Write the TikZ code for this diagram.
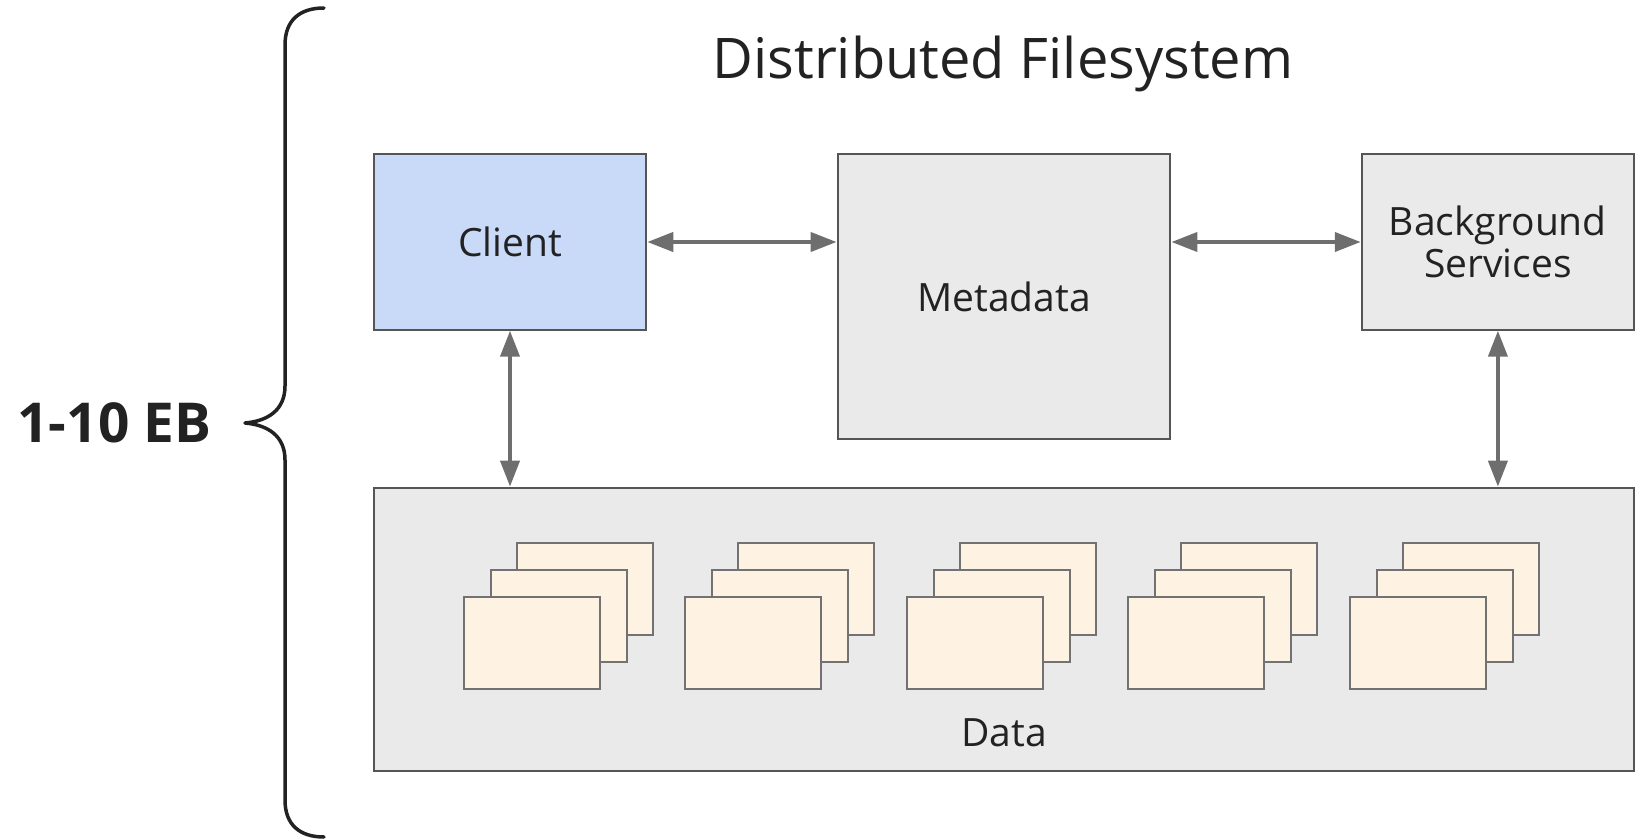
\documentclass[tikz,border=0pt]{standalone}
\usepackage{fontspec}
\setmainfont{Open Sans}
\usetikzlibrary{arrows.meta}

\definecolor{clientfill}{HTML}{C9DAF8}
\definecolor{boxfill}{HTML}{EAEAEA}
\definecolor{pagefill}{HTML}{FEF3E2}
\definecolor{boxline}{HTML}{555555}
\definecolor{pageline}{HTML}{727272}
\definecolor{arrowcol}{HTML}{6E6E6E}
\definecolor{inkcol}{HTML}{222222}

\begin{document}
\begin{tikzpicture}[x=1pt,y=-1pt,
  every node/.style={text=inkcol},
  box/.style={draw=boxline, line width=2pt, fill=boxfill, rectangle, inner sep=0pt,
    font=\fontsize{39}{43}\selectfont, align=center},
  clientbox/.style={box, fill=clientfill},
  page/.style={draw=pageline, line width=2pt, fill=pagefill, rectangle, inner sep=0pt,
    minimum width=136, minimum height=91.7},
  lbl/.style={font=\fontsize{39}{43}\selectfont, inner sep=0pt},
  conn/.style={draw=arrowcol, line width=4pt,
    {Triangle[length=26pt,width=19pt]}-{Triangle[length=26pt,width=19pt]}},
  brace/.style={draw=inkcol, line width=3.5pt, line cap=round, line join=round}
]
\useasboundingbox (0,0) rectangle (1650,840);

% title and size label
\node[anchor=base, inner sep=0pt, font=\fontsize{56}{60}\selectfont] (title) at (1003,79) {Distributed Filesystem};
\node[anchor=base, inner sep=0pt, font=\fontsize{55}{60}\selectfont\bfseries] (size) at (114.5,442) {1-10 EB};

% curly brace spanning the whole system
\draw[brace] (324,8) .. controls (300,8) and (285,20) .. (285,45)
  -- (285,386) .. controls (285,410) and (268,421) .. (245,423)
  .. controls (268,425) and (285,436) .. (285,460)
  -- (285,800) .. controls (285,825) and (300,837) .. (324,837);

% main components
\node[clientbox, minimum width=272.5, minimum height=175.4] (client) at (510,242) {Client};
\node[box, minimum width=332.8, minimum height=284.7] (meta) at (1004,296.7) {Metadata};
\node[box, minimum width=272.3, minimum height=175.4] (bg) at (1497.9,242) {Background\\[-1pt]Services};
\node[box, minimum width=1259.5, minimum height=283.7] (data) at (1003.8,629.5) {};
\node[lbl, anchor=base] (datalbl) at (1004,746) {Data};

% stacks of data chunks
\foreach \i/\px in {1/463,2/684.5,3/906,4/1127.5,5/1349} {
  \node[page] (back\i) at ({\px+68.5+53},{643.3-54}) {};
  \node[page] (mid\i) at ({\px+68.5+27},{643.3-27}) {};
  \node[page] (front\i) at ({\px+68.5},643.3) {};
}

% connections
\draw[conn] (client.east) -- (client.east -| meta.west);
\draw[conn] (bg.west -| meta.east) -- (bg.west);
\draw[conn] (client.south) -- (client.south |- data.north);
\draw[conn] (bg.south) -- (bg.south |- data.north);
\end{tikzpicture}
\end{document}
